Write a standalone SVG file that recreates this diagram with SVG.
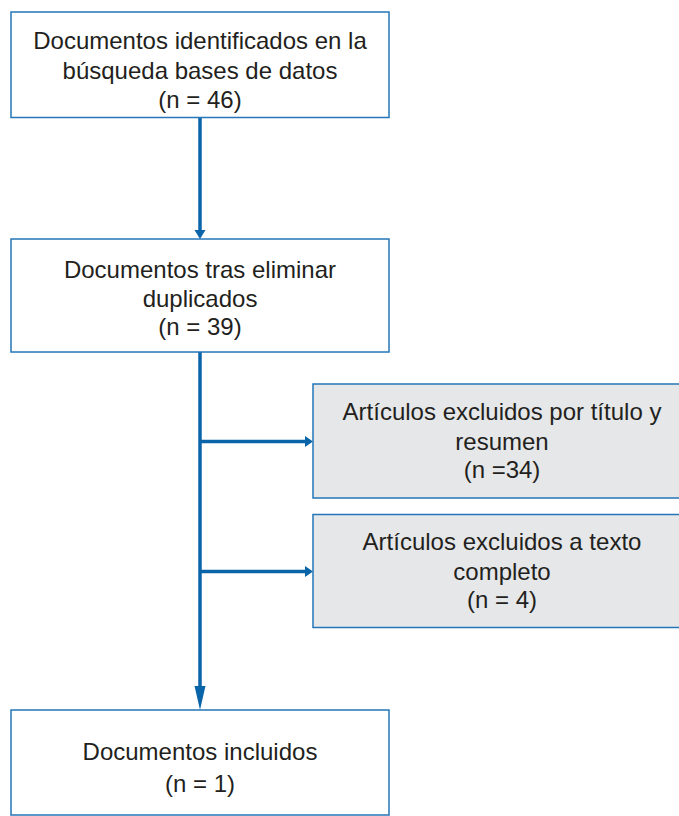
<svg xmlns="http://www.w3.org/2000/svg" width="679" height="816" viewBox="0 0 679 816">
<style>
.box{fill:#ffffff;stroke:#2576b8;stroke-width:1.5}
.gbox{fill:#e6e7e8;stroke:#2576b8;stroke-width:1.5}
.t{font-family:"Liberation Sans",Arial,sans-serif;font-size:24px;fill:#231f20;text-anchor:middle}
.c{stroke:#0a64a8;stroke-width:3.5;fill:none}
.h{fill:#0a64a8}
</style>
<rect width="679" height="816" fill="#ffffff"/>
<g id="connectors">
<line class="c" x1="200" y1="118" x2="200" y2="231"/>
<polygon class="h" points="194.5,230 205.5,230 200,239"/>
<line class="c" x1="200" y1="352" x2="200" y2="688"/>
<polygon class="h" points="194.5,686 205.5,686 200,710"/>
<line class="c" x1="200" y1="441.5" x2="306" y2="441.5"/>
<polygon class="h" points="305,436 305,447 313,441.5"/>
<line class="c" x1="200" y1="571.5" x2="306" y2="571.5"/>
<polygon class="h" points="305,566 305,577 313,571.5"/>
</g>
<g id="n1">
<rect class="box" x="11" y="12" width="378" height="105.5"/>
<text class="t" x="200" y="48.5">Documentos identificados en la</text>
<text class="t" x="200" y="79">búsqueda bases de datos</text>
<text class="t" x="200" y="107.5">(n = 46)</text>
</g>
<g id="n2">
<rect class="box" x="11" y="239" width="378" height="113"/>
<text class="t" x="200" y="278">Documentos tras eliminar</text>
<text class="t" x="200" y="307">duplicados</text>
<text class="t" x="200" y="335">(n = 39)</text>
</g>
<g id="n3">
<rect class="gbox" x="313" y="384" width="378" height="114"/>
<text class="t" x="502" y="420">Artículos excluidos por título y</text>
<text class="t" x="502" y="450">resumen</text>
<text class="t" x="502" y="478">(n =34)</text>
</g>
<g id="n4">
<rect class="gbox" x="313" y="514.5" width="378" height="113"/>
<text class="t" x="502" y="550">Artículos excluidos a texto</text>
<text class="t" x="502" y="580">completo</text>
<text class="t" x="502" y="608">(n = 4)</text>
</g>
<g id="n5">
<rect class="box" x="11" y="710" width="378" height="105"/>
<text class="t" x="200" y="760">Documentos incluidos</text>
<text class="t" x="200" y="792">(n = 1)</text>
</g>
</svg>
